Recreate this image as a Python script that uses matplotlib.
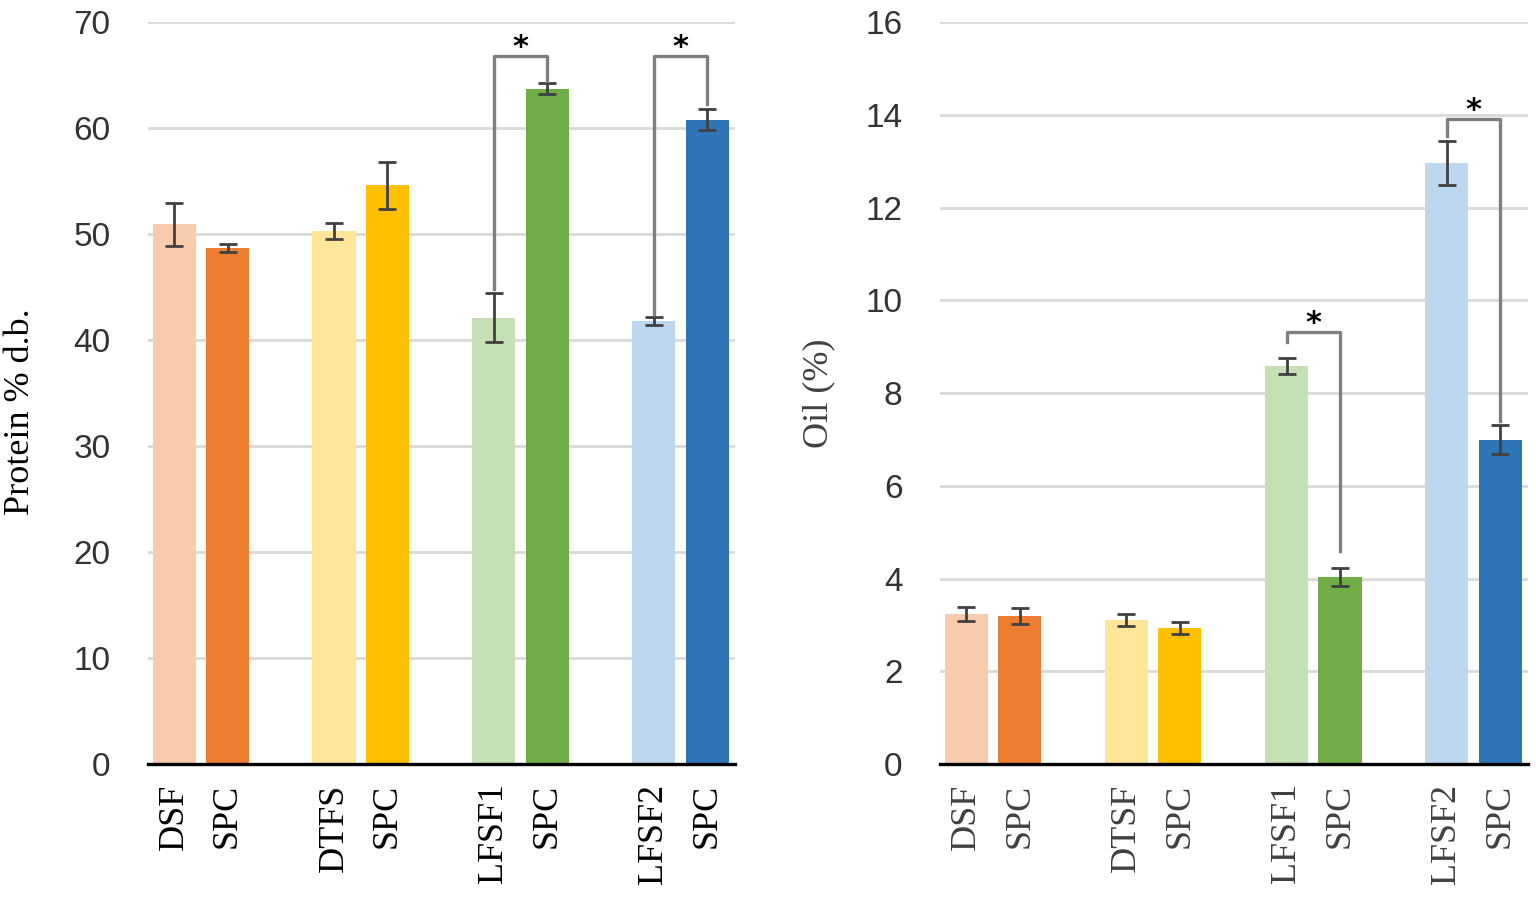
import matplotlib.pyplot as plt
import numpy as np

# Data
labels_prot = ['DSF', 'SPC', 'DTFS', 'SPC', 'LFSF1', 'SPC', 'LFSF2', 'SPC']
protein = [50.9, 48.7, 50.3, 54.6, 42.1, 63.7, 41.8, 60.8]
protein_err = [2.0, 0.4, 0.75, 2.2, 2.3, 0.5, 0.4, 1.0]

labels_oil = ['DSF', 'SPC', 'DTSF', 'SPC', 'LFSF1', 'SPC', 'LFSF2', 'SPC']
oil = [3.23, 3.19, 3.10, 2.93, 8.58, 4.03, 12.96, 6.99]
oil_err = [0.15, 0.17, 0.13, 0.13, 0.18, 0.19, 0.48, 0.31]

colors = ['#F8CBAD', '#ED7D31', '#FFE699', '#FFC000',
          '#C5E0B4', '#70AD47', '#BDD7EE', '#2E75B6']

# significance brackets: (left bar, right bar, left start, top, right end)
brackets_prot = [(4, 5, 44.8, 66.8, 64.4), (6, 7, 42.5, 66.8, 62.3)]
brackets_oil = [(4, 5, 9.1, 9.32, 4.6), (6, 7, 13.55, 13.9, 7.4)]

# bar positions: pairs within four groups
groups = np.arange(4)
offset = 0.167
xpos = np.ravel(np.column_stack([groups - offset, groups + offset]))
width = 0.27

fig = plt.figure(figsize=(15.36, 8.98), dpi=100)
ax1 = fig.add_axes([0.0964, 0.1492, 0.382, 0.8263])
ax2 = fig.add_axes([0.612, 0.1492, 0.3828, 0.8263])


def draw(ax, vals, errs, labels, brackets, ymax, step, ylabel, lab_color):
    ax.bar(xpos, vals, width=width, color=colors, zorder=2)
    ax.errorbar(xpos, vals, yerr=errs, fmt='none', ecolor='#404040',
                elinewidth=2, capsize=6.5, capthick=2, zorder=3)
    ax.set_ylim(0, ymax)
    ax.set_xlim(-0.33, 3.34)
    ax.set_yticks(np.arange(0, ymax + step / 2, step))
    ax.yaxis.grid(True, color='#D9D9D9', linewidth=2)
    ax.set_axisbelow(True)
    for s in ['top', 'right', 'left']:
        ax.spines[s].set_visible(False)
    ax.spines['bottom'].set_linewidth(2.4)
    ax.spines['bottom'].set_zorder(4)
    ax.tick_params(axis='y', length=0, pad=27, labelsize=24, labelcolor='#333333')
    for t in ax.get_yticklabels():
        t.set_fontfamily('Liberation Sans')
    ax.set_xticks(xpos)
    ax.set_xticklabels(labels, rotation=90, family='Liberation Serif',
                       fontsize=26, color=lab_color, va='top')
    ax.tick_params(axis='x', length=0, pad=14)
    ax.set_ylabel(ylabel, family='Liberation Serif', fontsize=26,
                  color=lab_color, labelpad=22)
    for i, j, y0, ytop, y1 in brackets:
        ax.plot([xpos[i], xpos[i], xpos[j], xpos[j]], [y0, ytop, ytop, y1],
                color='#7F7F7F', linewidth=2.4, zorder=5, clip_on=False)
        ax.text((xpos[i] + xpos[j]) / 2, ytop, '*',
                ha='center', va='baseline', fontsize=22, fontweight='bold',
                color='black')


draw(ax1, protein, protein_err, labels_prot, brackets_prot, 70, 10,
     'Protein % d.b.', 'black')
draw(ax2, oil, oil_err, labels_oil, brackets_oil, 16, 2,
     'Oil (%)', '#404040')
ax1.yaxis.set_label_coords(-0.19, 0.475)

fig.savefig('out.png', dpi=100)
